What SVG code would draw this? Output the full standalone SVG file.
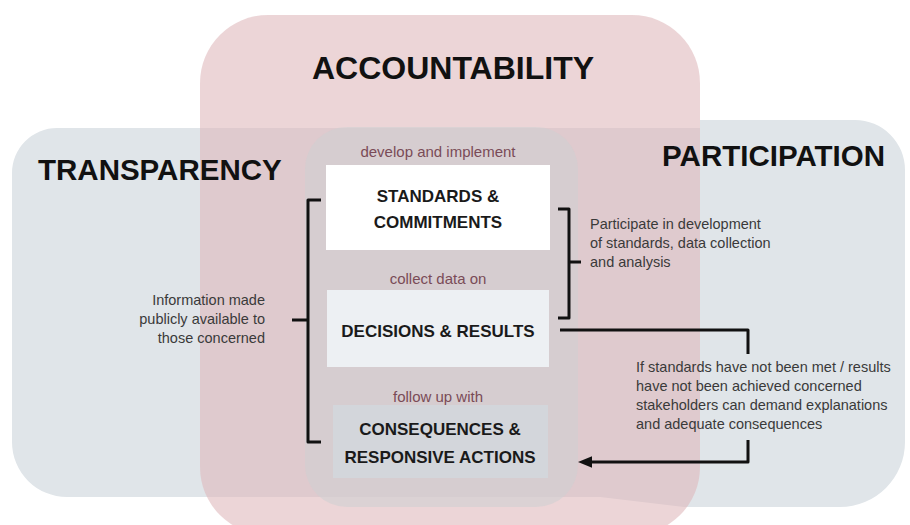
<svg xmlns="http://www.w3.org/2000/svg" width="910" height="525" viewBox="0 0 910 525">
  <defs>
    <style>
      .head { font-family: "Liberation Sans", Arial, sans-serif; font-weight: bold; fill: #111; }
      .box { font-family: "Liberation Sans", Arial, sans-serif; font-weight: bold; font-size: 17px; fill: #1a1a1a; text-anchor: middle; }
      .verb { font-family: "Liberation Sans", Arial, sans-serif; font-size: 15px; fill: #7a4b57; text-anchor: middle; }
      .note { font-family: "Liberation Sans", Arial, sans-serif; font-size: 14.5px; fill: #3a3a3a; }
      .conn { fill: none; stroke: #111; stroke-width: 3; stroke-linejoin: round; stroke-linecap: butt; }
    </style>
    <marker id="arrow" viewBox="0 0 12 10" refX="2" refY="5" markerWidth="4.8" markerHeight="4.2" orient="auto-start-reverse" markerUnits="strokeWidth">
      <path d="M0,0 L12,5 L0,10 Z" fill="#111"/>
    </marker>
  </defs>
  <rect width="910" height="525" fill="#ffffff"/>

  <g id="transparency-participation">
    <path d="M57,128 H700 V120 H855 A50,50 0 0 1 905,170 V442 A65,65 0 0 1 840,507 H684 L600,497 H67 A55,55 0 0 1 12,442 V173 A45,45 0 0 1 57,128 Z" fill="#e0e5e9"/>
  </g>
  <g id="accountability">
    <rect x="200" y="15" width="500" height="520" rx="68" ry="68" fill="#deb7ba" fill-opacity="0.58"/>
  </g>
  <g id="core">
    <rect x="305" y="127" width="273" height="380" rx="42" ry="42" fill="#cdd0d2" fill-opacity="0.55"/>
  </g>

  <g id="labels">
    <text class="head" x="453" y="79" font-size="32" text-anchor="middle">ACCOUNTABILITY</text>
    <text class="head" x="38" y="180" font-size="29.5">TRANSPARENCY</text>
    <text class="head" x="885" y="166" font-size="29.5" text-anchor="end">PARTICIPATION</text>
  </g>

  <g id="standards">
    <text class="verb" x="438" y="157">develop and implement</text>
    <rect x="326" y="165" width="224" height="85" fill="#ffffff"/>
    <text class="box" x="438" y="202">STANDARDS &amp;</text>
    <text class="box" x="438" y="228">COMMITMENTS</text>
  </g>
  <g id="decisions">
    <text class="verb" x="438" y="284">collect data on</text>
    <rect x="327" y="290" width="222" height="77" fill="#edf0f3"/>
    <text class="box" x="438" y="337">DECISIONS &amp; RESULTS</text>
  </g>
  <g id="consequences">
    <text class="verb" x="438" y="402">follow up with</text>
    <rect x="333" y="405" width="215" height="73" fill="#d3d6db"/>
    <text class="box" x="440" y="435">CONSEQUENCES &amp;</text>
    <text class="box" x="440" y="463">RESPONSIVE ACTIONS</text>
  </g>

  <g id="note-transparency">
    <text class="note" x="265" y="305" text-anchor="end">Information made</text>
    <text class="note" x="265" y="324" text-anchor="end">publicly available to</text>
    <text class="note" x="265" y="343" text-anchor="end">those concerned</text>
  </g>
  <g id="note-participation">
    <text class="note" x="590" y="229">Participate in development</text>
    <text class="note" x="590" y="248">of standards, data collection</text>
    <text class="note" x="590" y="267">and analysis</text>
  </g>
  <g id="note-accountability">
    <text class="note" x="636" y="372">If standards have not been met / results</text>
    <text class="note" x="636" y="391">have not been achieved concerned</text>
    <text class="note" x="636" y="410">stakeholders can demand explanations</text>
    <text class="note" x="636" y="429">and adequate consequences</text>
  </g>

  <g id="connectors">
    <path class="conn" d="M321,200 H308 V442 H321 M308,320 H292"/>
    <path class="conn" d="M558,209 H569 V318 H558 M569,262 H581"/>
    <path class="conn" d="M560,330 H748 V354"/>
    <path class="conn" d="M748,440 V462 H590" marker-end="url(#arrow)"/>
  </g>
</svg>
